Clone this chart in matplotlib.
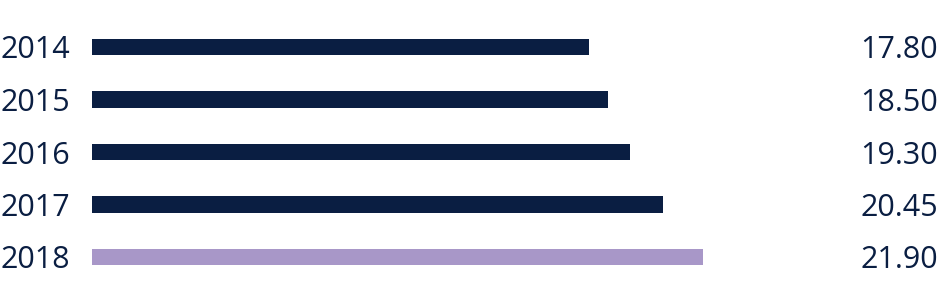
import matplotlib.pyplot as plt
from matplotlib.transforms import blended_transform_factory

years = ['2014', '2015', '2016', '2017', '2018']
values = [17.80, 18.50, 19.30, 20.45, 21.90]
labels = ['17.80', '18.50', '19.30', '20.45', '21.90']

navy = '#0a1e42'
purple = '#a897c8'
colors = [navy, navy, navy, navy, purple]

plt.rcParams['font.family'] = ['Open Sans', 'DejaVu Sans']

fig = plt.figure(figsize=(9.4, 2.81), dpi=100)
ax = fig.add_axes([92 / 940, 0, 848 / 940, 1])

pos = list(range(len(years)))
ax.barh(pos, values, height=0.305, color=colors)
ax.set_xlim(0, 848 / 27.9)
ax.set_ylim(4 + 24 / 52.5, -47 / 52.5)
ax.axis('off')

tr = blended_transform_factory(fig.transFigure, ax.transData)
for i in pos:
    ax.text(70 / 940, i, years[i], transform=tr, ha='right', va='center_baseline',
            fontsize=22, color=navy)
    ax.text(938 / 940, i, labels[i], transform=tr, ha='right', va='center_baseline',
            fontsize=22, color=navy)

fig.savefig('out.png', dpi=100)
